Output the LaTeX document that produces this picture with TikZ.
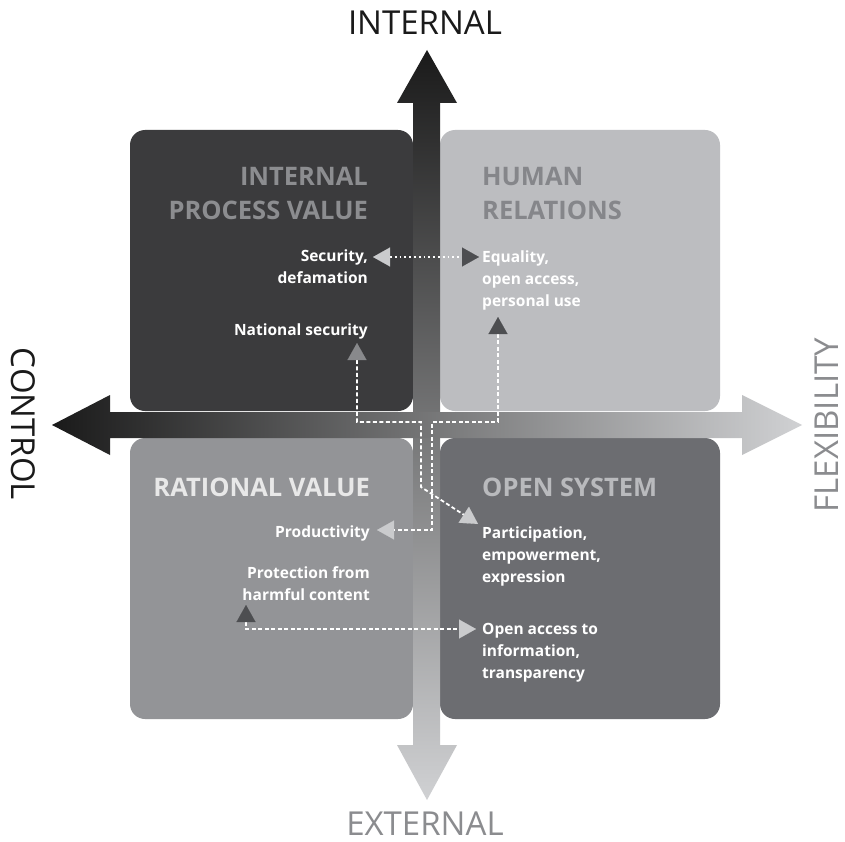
\documentclass[tikz,border=0pt]{standalone}
\usepackage{fontspec}
\setmainfont{Open Sans}
\usetikzlibrary{arrows.meta}
\definecolor{tlcol}{HTML}{3B3B3D}
\definecolor{trcol}{HTML}{BCBDC0}
\definecolor{blcol}{HTML}{939497}
\definecolor{brcol}{HTML}{6C6D71}
\definecolor{tltitle}{HTML}{8C8D90}
\definecolor{trtitle}{HTML}{85868A}
\definecolor{bltitle}{HTML}{E8E8E8}
\definecolor{brtitle}{HTML}{B9BABD}
\definecolor{axdark}{HTML}{1A1A1A}
\definecolor{axlight}{HTML}{D0D1D3}
\definecolor{axgray}{HTML}{8B8C8F}
\definecolor{tiplight}{HTML}{CACBCD}
\definecolor{tipdark}{HTML}{4D4E51}
\definecolor{tipmid}{HTML}{88898C}
\tikzset{
  qtitle/.style={font=\fontsize{25.5}{34}\selectfont\bfseries, inner sep=0pt},
  item/.style={font=\fontsize{15.5}{22}\selectfont\bfseries, text=white, inner sep=0pt},
  axislabel/.style={font=\fontsize{33}{33}\selectfont, inner sep=0pt},
  conn/.style={draw=white, line width=1.8pt, dash pattern=on 4pt off 2.5pt},
  dotconn/.style={draw=white, line width=1.8pt, dash pattern=on 1.8pt off 3pt},
  Tl/.tip={Triangle[length=17pt,width=19pt,line width=0.1pt,fill=tiplight,color=tiplight]},
  Td/.tip={Triangle[length=17pt,width=19pt,line width=0.1pt,fill=tipdark,color=tipdark]},
  Tm/.tip={Triangle[length=17pt,width=19pt,line width=0.1pt,fill=tipmid,color=tipmid]},
}
\begin{document}
\begin{tikzpicture}[x=1pt,y=-1pt]
\useasboundingbox[fill=white] (0,0) rectangle (845,842);
% quadrant boxes
\fill[tlcol, rounded corners=15pt] (130,130) rectangle (413,411);
\fill[trcol, rounded corners=15pt] (440,130) rectangle (720,411);
\fill[blcol, rounded corners=15pt] (130,438) rectangle (413,719);
\fill[brcol, rounded corners=15pt] (440,438) rectangle (720,719);
% axes
\shade[top color=axdark, bottom color=axlight]
  (427,50) -- (457,103) -- (440,103) -- (440,745) -- (457,745) -- (427,800)
  -- (397,745) -- (413,745) -- (413,103) -- (397,103) -- cycle;
\shade[left color=axdark, right color=axlight]
  (52,425) -- (110,395) -- (110,412) -- (742,412) -- (742,395) -- (802,425)
  -- (742,455) -- (742,438) -- (110,438) -- (110,455) -- cycle;
% axis labels
\node[axislabel, text=axdark, anchor=base] (internal) at (425,35) {INTERNAL};
\node[axislabel, text=axgray, anchor=base] (external) at (425,835) {EXTERNAL};
\node[axislabel, text=axdark, anchor=base, rotate=-90] (control) at (12,424) {CONTROL};
\node[axislabel, text=axgray, anchor=base, rotate=90] (flex) at (838,425) {FLEXIBILITY};
% quadrant titles (base = last line)
\node[qtitle, text=tltitle, align=right, anchor=base east] (tlt) at (368,220) {INTERNAL\\PROCESS VALUE};
\node[qtitle, text=trtitle, align=left, anchor=base west] (trt) at (482,220) {HUMAN\\RELATIONS};
\node[qtitle, text=bltitle, align=right, anchor=base east] (blt) at (370,496) {RATIONAL VALUE};
\node[qtitle, text=brtitle, align=left, anchor=base west] (brt) at (482,496) {OPEN SYSTEM};
% items (base = last line)
\node[item, align=right, anchor=base east] (sec) at (368,283) {Security,\\defamation};
\node[item, align=right, anchor=base east] (natsec) at (368,335) {National security};
\node[item, align=left, anchor=base west] (equal) at (482,306) {Equality,\\open access,\\personal use};
\node[item, align=right, anchor=base east] (prod) at (370,537) {Productivity};
\node[item, align=right, anchor=base east] (prot) at (370,600) {Protection from\\harmful content};
\node[item, align=left, anchor=base west] (partic) at (482,582) {Participation,\\empowerment,\\expression};
\node[item, align=left, anchor=base west] (openacc) at (482,678) {Open access to\\information,\\transparency};
% connector end points
\coordinate (secTip) at (373,257);
\coordinate (eqTip) at (479,257);
\coordinate (nsTip) at (357,343);
\coordinate (paTip) at (478,524);
\coordinate (eqUpTip) at (498,317);
\coordinate (prTip) at (377,530);
\coordinate (ptTip) at (246,605);
\coordinate (oaTip) at (476,629);
% connectors
\draw[dotconn, Tl-Td] (secTip) -- (eqTip);
\draw[conn, Tm-Tl] (nsTip) -- (357,422) -- (421,422) -- (421,487) -- (paTip);
\draw[conn, Td-Tl] (eqUpTip) -- (498,422) -- (432,422) -- (432,530) -- (prTip);
\draw[conn, Td-Tl] (ptTip) -- (246,629) -- (oaTip);
\end{tikzpicture}
\end{document}
